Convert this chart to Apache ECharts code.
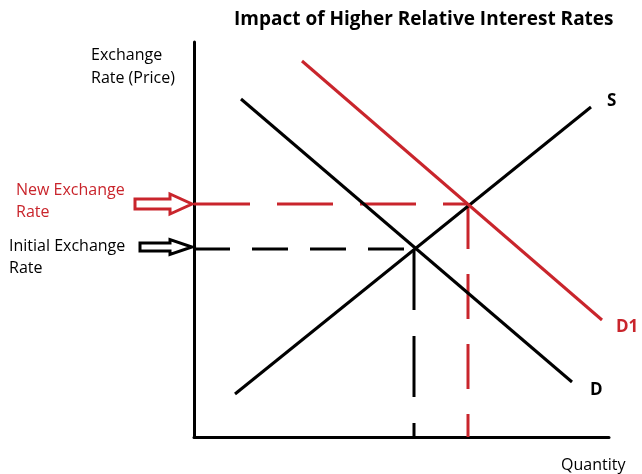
<!DOCTYPE html>
<html>
<head>
<meta charset="utf-8">
<script src="https://cdn.jsdelivr.net/npm/echarts@6/dist/echarts.min.js"></script>
<style>html,body{margin:0;padding:0;background:#fff}#c{width:642px;height:474px}</style>
</head>
<body>
<div id="c"></div>
<script>
// Curves: [quantity, price] end points (abstract units)
const supplyS = [[41, 43], [397, 330]];
const demandD = [[47, 338], [378, 55]];
const demandD1 = [[108, 376], [408, 117]];
// Equilibria
const initialEq = [220, 188];
const newEq = [274, 233];
// Labels
const titleText = 'Impact of Higher Relative Interest Rates';
const yName = 'Exchange\nRate (Price)';
const xName = 'Quantity';
const arrowLabels = [
  { price: newEq[1], text: 'New Exchange\nRate', color: '#c9252c' },
  { price: initialEq[1], text: 'Initial Exchange\nRate', color: '#000000' }
];

const RED = '#c9252c';
const FONT = '"Open Sans", sans-serif';

const chart = echarts.init(document.getElementById('c'));

function lineSeries(name, data, color, label, offset) {
  return {
    type: 'line', name, data, showSymbol: false, silent: true,
    lineStyle: { color, width: 3 },
    endLabel: { show: true, formatter: label, color, fontFamily: FONT, fontWeight: 'bold', fontSize: 17, offset },
    z: 3
  };
}
function dashSeries(data, color, dash) {
  return {
    type: 'line', data, showSymbol: false, silent: true,
    lineStyle: { color, width: 3, type: dash }, z: 2
  };
}

chart.setOption({
  animation: false,
  title: [
    {
      text: titleText, left: 234, top: 10, padding: 0,
      textStyle: { fontFamily: FONT, fontWeight: 'bold', fontSize: 19, color: '#000' }
    },
    {
      text: yName, left: 91, top: 44, padding: 0,
      textStyle: { fontFamily: FONT, fontWeight: 'normal', fontSize: 16, lineHeight: 23, color: '#000' }
    },
    {
      text: xName, left: 561, top: 457, padding: 0,
      textStyle: { fontFamily: FONT, fontWeight: 'normal', fontSize: 16, color: '#000' }
    }
  ],
  grid: { left: 194, top: 42, width: 415, height: 395 },
  xAxis: {
    type: 'value', min: 0, max: 415,
    axisLine: { lineStyle: { color: '#000', width: 3 } },
    axisTick: { show: false }, axisLabel: { show: false }, splitLine: { show: false }
  },
  yAxis: {
    type: 'value', min: 0, max: 395,
    axisLine: { lineStyle: { color: '#000', width: 3 } },
    axisTick: { show: false }, axisLabel: { show: false }, splitLine: { show: false }
  },
  series: [
    dashSeries([[0, newEq[1]], newEq], RED, [56, 27]),
    dashSeries([newEq, [newEq[0], 0]], RED, [45, 25]),
    dashSeries([[0, initialEq[1]], initialEq], '#000', [36, 22]),
    dashSeries([initialEq, [initialEq[0], 0]], '#000', [61, 26]),
    lineSeries('S', supplyS, '#000', 'S', [8, -6]),
    lineSeries('D', demandD, '#000', 'D', [10, 8]),
    lineSeries('D1', demandD1, RED, 'D1', [6, 7]),
    {
      type: 'custom', silent: true, z: 5,
      data: arrowLabels.map(a => [0, a.price]),
      renderItem: function (params, api) {
        const a = arrowLabels[params.dataIndex];
        const p = api.coord([0, api.value(1)]);
        const tipX = p[0] - 2, y = p[1];
        const big = params.dataIndex === 0;
        const len = big ? 57 : 52, headLen = 22;
        const hh = big ? 10 : 7.5, sh = big ? 5 : 4;
        const x0 = tipX - len, xh = tipX - headLen;
        const dy = big ? 0 : -2;
        return {
          type: 'group',
          children: [
            {
              type: 'polygon',
              shape: { points: [[x0, y + dy - sh], [xh, y + dy - sh], [xh, y + dy - hh], [tipX, y + dy], [xh, y + dy + hh], [xh, y + dy + sh], [x0, y + dy + sh]] },
              style: { fill: '#fff', stroke: a.color, lineWidth: 3 }
            },
            {
              type: 'text',
              x: big ? p[0] - 178 : p[0] - 185,
              y: big ? y - 25 : y - 14,
              style: { text: a.text, fill: a.color, font: '16px ' + FONT, lineHeight: 22, textVerticalAlign: 'top' }
            }
          ]
        };
      }
    }
  ]
});
</script>
</body>
</html>
